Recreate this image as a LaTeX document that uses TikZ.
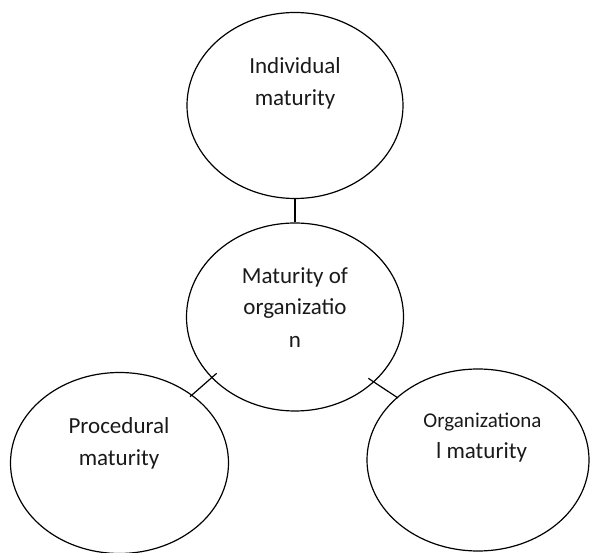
\documentclass[tikz,border=0pt]{standalone}
\usepackage{fontspec}
\setmainfont{Carlito}
\usetikzlibrary{shapes.geometric}
\begin{document}
\begin{tikzpicture}[x=1pt,y=-1pt,
  oval/.style={draw=black,line width=1.2pt,ellipse,inner sep=0pt},
  conn/.style={draw=black,line width=1.2pt},
  lbl/.style={anchor=base,inner sep=0pt,font=\fontsize{23}{28}\selectfont,text=black!90}]
\useasboundingbox (0,0) rectangle (590,553);
\node[oval,minimum width=216pt,minimum height=186pt] (top) at (295,105.5) {};
\node[oval,minimum width=217pt,minimum height=188pt] (mid) at (295,317) {};
\node[oval,minimum width=218pt,minimum height=181pt] (left) at (119.5,463) {};
\node[oval,minimum width=222pt,minimum height=182pt] (right) at (478,460) {};
\node[lbl] (t1) at (295,74) {Individual};
\node[lbl] (t2) at (295,106) {maturity};
\node[lbl] (m1) at (295,284) {Maturity of};
\node[lbl] (m2) at (295,315) {organizatio};
\node[lbl] (m3) at (295,347.5) {n};
\node[lbl] (l1) at (119,434) {Procedural};
\node[lbl] (l2) at (119,466) {maturity};
\node[lbl,font=\fontsize{21}{25}\selectfont] (r1) at (482.5,428) {Organizationa};
\node[lbl] (r2) at (481.5,459) {l maturity};
\coordinate (ca) at (top.south);
\coordinate (cb) at (mid.north);
\coordinate (la) at (190,396.7);
\coordinate (lb) at (216.7,373.3);
\coordinate (ra) at (368.3,378.3);
\coordinate (rb) at (398,398);
\draw[conn] (ca) -- (cb);
\draw[conn] (la) -- (lb);
\draw[conn] (ra) -- (rb);
\end{tikzpicture}
\end{document}
